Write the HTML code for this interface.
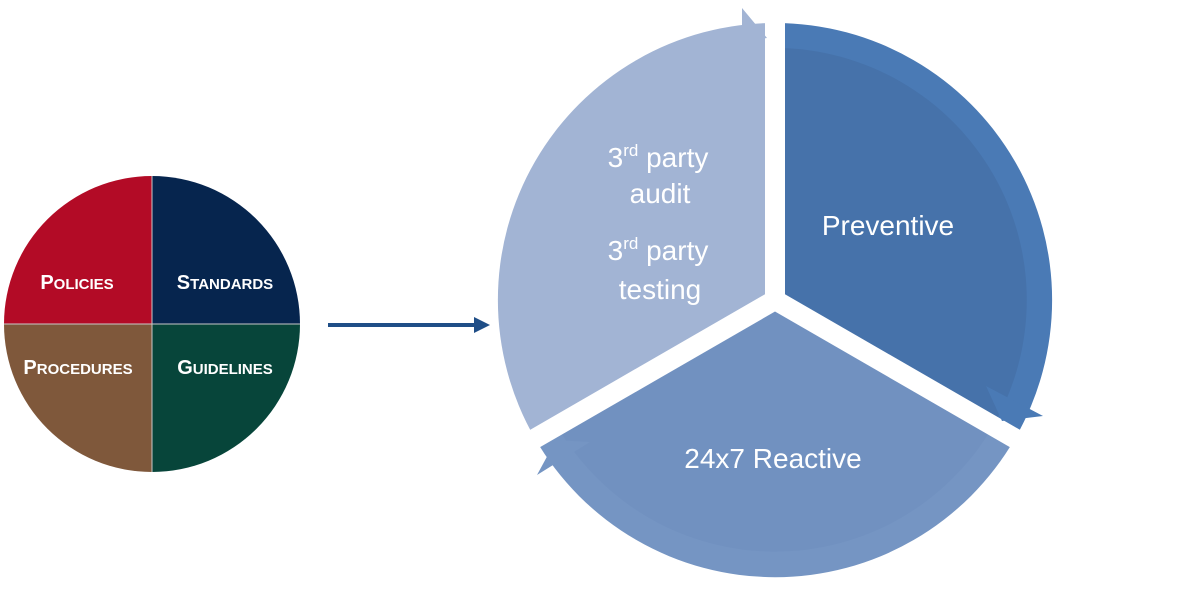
<!DOCTYPE html>
<html><head><meta charset="utf-8"><style>
html,body{margin:0;padding:0;background:#fff;}
svg{display:block;}
text{font-family:"Liberation Sans",sans-serif;}
</style></head><body>
<svg width="1200" height="610" viewBox="0 0 1200 610" xmlns="http://www.w3.org/2000/svg">
<!-- left pie -->
<path d="M152,324 L152,176 A148,148 0 0 0 4,324 Z" fill="#B30B26"/>
<path d="M152,324 L300,324 A148,148 0 0 0 152,176 Z" fill="#06254E"/>
<path d="M152,324 L4,324 A148,148 0 0 0 152,472 Z" fill="#7F583B"/>
<path d="M152,324 L152,472 A148,148 0 0 0 300,324 Z" fill="#07453A"/>
<line x1="152" y1="176" x2="152" y2="472" stroke="#c8c8c8" stroke-width="1"/>
<line x1="4" y1="324" x2="300" y2="324" stroke="#c8c8c8" stroke-width="1"/>
<g fill="#fff" font-weight="bold" text-anchor="middle">
<text x="77" y="289" font-size="15"><tspan font-size="20">P</tspan>OLICIES</text>
<text x="225" y="289" font-size="15"><tspan font-size="20">S</tspan>TANDARDS</text>
<text x="78" y="374" font-size="15"><tspan font-size="20">P</tspan>ROCEDURES</text>
<text x="225" y="374" font-size="15"><tspan font-size="20">G</tspan>UIDELINES</text>
</g>
<!-- connector arrow -->
<line x1="328" y1="325" x2="476" y2="325" stroke="#1F4E87" stroke-width="4"/>
<polygon points="474,317 490,325 474,333" fill="#1F4E87"/>
<!-- cycle -->
<!-- center 775,300 r 277 -->
<path d="M775,300 L775,23 A277,277 0 0 1 1015,438.5 Z" fill="#4A7AB5"/>
<path d="M775,300 L775,48 A252,252 0 0 1 993,426 Z" fill="#4672AA"/>
<path d="M775,300 L1015,438.5 A277,277 0 0 1 535,438.5 Z" fill="#7595C3"/>
<path d="M775,300 L993,426 A252,252 0 0 1 557,426 Z" fill="#7191C0"/>
<path d="M775,300 L535,438.5 A277,277 0 0 1 775,23 Z" fill="#A2B4D4"/>
<!-- gaps -->
<g stroke="#fff" stroke-width="20">
<line x1="775" y1="300" x2="775" y2="0"/>
<line x1="775" y1="300" x2="1060" y2="464.5"/>
<line x1="775" y1="300" x2="490" y2="464.5"/>
</g>
<!-- arrowheads -->
<polygon points="742,8 767,38 742,42" fill="#A2B4D4"/>
<polygon points="986,386 1043,416 1002,421" fill="#4A7AB5"/>
<polygon points="537,475 556,440 590,442" fill="#7595C3"/>
<g fill="#fff" text-anchor="middle" font-size="28">
<text x="658" y="167">3<tspan font-size="17" dy="-11">rd</tspan><tspan dy="11"> party</tspan></text>
<text x="660" y="203">audit</text>
<text x="658" y="260">3<tspan font-size="17" dy="-11">rd</tspan><tspan dy="11"> party</tspan></text>
<text x="660" y="299">testing</text>
<text x="888" y="235">Preventive</text>
<text x="773" y="468">24x7 Reactive</text>
</g>
</svg>
</body></html>
